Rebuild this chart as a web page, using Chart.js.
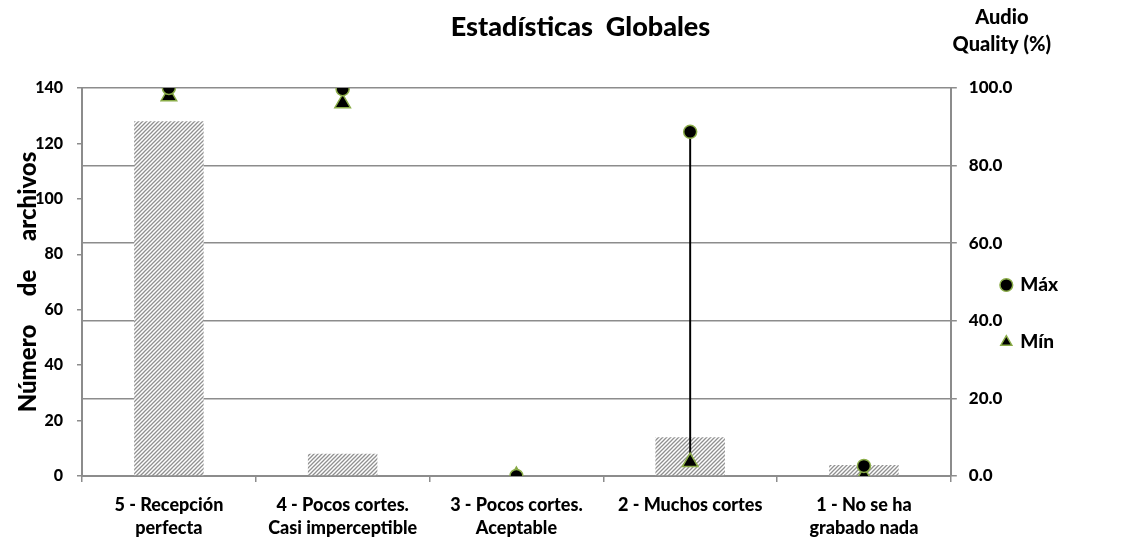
<!DOCTYPE html>
<html>
<head>
<meta charset="utf-8">
<script src="https://cdn.jsdelivr.net/npm/chart.js@4.4.1/dist/chart.umd.min.js"></script>
<style>
  html, body { margin: 0; padding: 0; background: #fff; }
  #wrap { width: 1122px; height: 543px; position: relative; }
</style>
</head>
<body>
<div id="wrap"><canvas id="chart1" width="1122" height="543"></canvas></div>
<script>
// Datos
const categorias = [
  ['5 - Recepción', 'perfecta'],
  ['4 - Pocos cortes.', 'Casi imperceptible'],
  ['3 - Pocos cortes.', 'Aceptable'],
  ['2 - Muchos cortes'],
  ['1 - No se ha', 'grabado nada']
];
const numArchivos = [128, 8, 0, 14, 4];
const calidadMax = [100, 99.7, 0, 88.7, 2.6];
const calidadMin = [97.9, 96.1, 0, 3.6, 0];

const fuente = 'Lato, "Open Sans", sans-serif';
const peso = '900';
const gris = '#8c8c8c';
const verde = '#8aac48';

// Relleno rayado de las barras
function hatchPattern() {
  const c = document.createElement('canvas');
  c.width = 4; c.height = 4;
  const g = c.getContext('2d');
  g.fillStyle = '#fff';
  g.fillRect(0, 0, 4, 4);
  g.strokeStyle = '#909090';
  g.lineWidth = 1.3;
  g.beginPath();
  g.moveTo(0, 4); g.lineTo(4, 0);
  g.moveTo(-1, 1); g.lineTo(1, -1);
  g.moveTo(3, 5); g.lineTo(5, 3);
  g.stroke();
  return g.createPattern(c, 'repeat');
}

// Titulo del eje derecho (arriba) y ajuste de leyenda / titulo
const extras = {
  id: 'extras',
  afterLayout(chart) {
    const lg = chart.legend;
    if (lg) {
      lg.left -= 53; lg.right -= 53;
      lg.top += 42; lg.bottom += 42;
    }
    const tb = chart.titleBlock;
    if (tb) { tb.left += 20; tb.right += 20; }
  },
  afterDraw(chart) {
    const ctx = chart.ctx;
    const x = chart.scales.y1.left + 51;
    ctx.save();
    ctx.fillStyle = '#000';
    ctx.font = peso + ' 20px ' + fuente;
    ctx.textAlign = 'center';
    ctx.textBaseline = 'middle';
    ctx.fillText('Audio', x, 18);
    ctx.fillText('Quality (%)', x, 45);
    ctx.restore();
  }
};

const ctx = document.getElementById('chart1').getContext('2d');
new Chart(ctx, {
  data: {
    labels: categorias,
    datasets: [
      {
        type: 'line',
        label: 'Máx',
        data: calidadMax,
        yAxisID: 'y1',
        showLine: false,
        pointStyle: 'circle',
        pointRadius: 6.5,
        pointBackgroundColor: '#000',
        pointBorderColor: verde,
        pointBorderWidth: 1.5,
        backgroundColor: '#000',
        borderColor: verde,
        order: 0
      },
      {
        type: 'line',
        label: 'Mín',
        data: calidadMin,
        yAxisID: 'y1',
        showLine: false,
        pointStyle: 'triangle',
        pointRadius: 9,
        pointBackgroundColor: '#000',
        pointBorderColor: verde,
        pointBorderWidth: 1.5,
        backgroundColor: '#000',
        borderColor: verde,
        order: 1
      },
      {
        type: 'bar',
        label: 'rango',
        data: calidadMin.map((m, i) => [m, calidadMax[i]]),
        yAxisID: 'y1',
        backgroundColor: '#000',
        barThickness: 1.3,
        grouped: false,
        order: 2
      },
      {
        type: 'bar',
        label: 'Número de archivos',
        data: numArchivos,
        yAxisID: 'y',
        backgroundColor: hatchPattern(),
        borderWidth: 0,
        categoryPercentage: 1,
        barPercentage: 0.4,
        grouped: false,
        order: 3
      }
    ]
  },
  options: {
    responsive: false,
    animation: false,
    maintainAspectRatio: false,
    layout: { padding: { left: 0, right: 1, top: 0, bottom: 0 } },
    plugins: {
      title: {
        display: true,
        text: 'Estadísticas  Globales',
        color: '#000',
        font: { family: fuente, size: 27, weight: peso },
        padding: { top: 11, bottom: 44.6 }
      },
      legend: {
        position: 'right',
        labels: {
          usePointStyle: true,
          boxWidth: 9,
          boxHeight: 9,
          padding: 38,
          color: '#000',
          font: { family: fuente, size: 19, weight: peso },
          filter: (item) => item.text === 'Máx' || item.text === 'Mín'
        }
      },
      tooltip: { enabled: false }
    },
    scales: {
      x: {
        grid: { offset: true, drawOnChartArea: false, color: gris, lineWidth: 1.5, tickLength: 6 },
        border: { color: gris, width: 2 },
        ticks: {
          color: '#000', padding: 11, maxRotation: 0,
          font: { family: fuente, size: 18, weight: peso, lineHeight: 1.3 }
        },
        afterFit: (s) => { s.height = 67; }
      },
      y: {
        position: 'left',
        min: 0, max: 140,
        ticks: { stepSize: 20, color: '#000', padding: 14, font: { family: fuente, size: 16, weight: peso } },
        grid: { drawOnChartArea: false, color: gris, lineWidth: 1.5, tickLength: 5 },
        border: { color: gris, width: 2 },
        title: {
          display: true,
          text: 'Número     de     archivos',
          color: '#000',
          font: { family: fuente, size: 24, weight: peso },
          padding: { top: 14, bottom: 0 }
        },
        afterFit: (s) => { s.width = 82; }
      },
      y1: {
        position: 'right',
        min: 0, max: 100,
        ticks: {
          stepSize: 20, color: '#000', padding: 12,
          font: { family: fuente, size: 17, weight: peso },
          callback: (v) => v.toFixed(1)
        },
        grid: { drawOnChartArea: true, color: gris, lineWidth: 1.5, tickLength: 6 },
        border: { color: gris, width: 2 },
        afterFit: (s) => { s.width = 66; }
      }
    }
  },
  plugins: [extras]
});
</script>
</body>
</html>
